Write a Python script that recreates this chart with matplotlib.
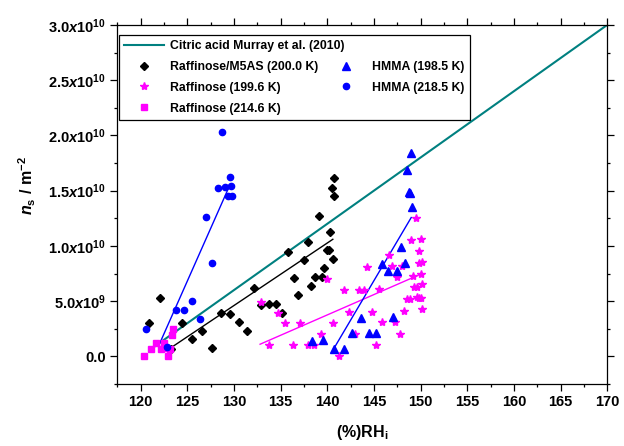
import matplotlib
matplotlib.use("Agg")
import matplotlib.pyplot as plt
from matplotlib.ticker import MultipleLocator, FixedLocator, FixedFormatter
from matplotlib.lines import Line2D

plt.rcParams['font.family'] = ['Liberation Sans', 'DejaVu Sans']
plt.rcParams['font.weight'] = 'bold'
plt.rcParams['mathtext.fontset'] = 'custom'
plt.rcParams['mathtext.rm'] = 'Liberation Sans:bold'
plt.rcParams['mathtext.bf'] = 'Liberation Sans:bold'
plt.rcParams['mathtext.it'] = 'Liberation Sans:bold:italic'
plt.rcParams['mathtext.bfit'] = 'Liberation Sans:bold:italic'

SCALE = 1e10  # values below are in units of 1e10 m^-2

# Raffinose/M5AS (200.0 K)
raf_m5as_rh = [122.1, 120.9, 124.4, 126.6, 125.5, 127.6, 123.3, 128.6, 129.6, 130.5,
               131.4, 132.2, 132.9, 133.75, 134.5, 135.1, 135.8, 136.4, 136.9, 137.5,
               137.9, 138.3, 138.7, 139.4, 139.7, 140.0, 140.2, 140.6, 139.1, 140.3,
               140.5, 140.75, 140.7]
raf_m5as_ns = [0.53, 0.305, 0.305, 0.23, 0.154, 0.079, 0.067, 0.39, 0.386, 0.308,
               0.232, 0.62, 0.465, 0.47, 0.47, 0.392, 0.944, 0.709, 0.552, 0.872,
               1.031, 0.633, 0.715, 0.715, 0.80, 0.962, 0.962, 0.884, 1.275, 1.128,
               1.528, 1.613, 1.456]

# Raffinose (199.6 K)
raf_199_rh = [132.9, 134.7, 135.5, 137.1, 133.8, 136.3, 137.9, 138.6, 139.3, 139.95,
              140.6, 141.25, 141.8, 142.3, 143.0, 143.4, 143.9, 144.3, 144.75, 145.2,
              145.6, 145.9, 146.6, 146.95, 147.25, 147.5, 147.8, 148.0, 148.25, 148.5,
              148.85, 148.95, 149.2, 149.35, 149.5, 149.65, 149.65, 149.8, 149.85, 149.85,
              150.0, 150.05, 150.1, 150.15, 150.15, 150.15]
raf_199_ns = [0.49, 0.39, 0.30, 0.30, 0.10, 0.10, 0.10, 0.10, 0.20, 0.70,
              0.30, 0.00, 0.60, 0.40, 0.20, 0.60, 0.60, 0.81, 0.40, 0.10,
              0.61, 0.31, 0.92, 0.82, 0.31, 0.72, 0.20, 0.82, 0.41, 0.52,
              0.52, 1.05, 0.73, 0.63, 1.25, 0.54, 0.63, 0.845, 0.956, 0.53,
              0.53, 0.745, 1.064, 0.43, 0.655, 0.854]

# Raffinose (214.6 K)
raf_214_rh = [120.4, 121.1, 121.7, 122.2, 122.55, 122.9, 123.2, 123.35, 123.45, 122.6]
raf_214_ns = [0.0, 0.065, 0.125, 0.065, 0.125, 0.0, 0.065, 0.19, 0.25, 0.08]

# HMMA (198.5 K)
hmma_198_rh = [149.0, 148.55, 148.8, 148.9, 149.05, 147.9, 145.9, 146.5, 147.5, 148.3,
               143.6, 147.0, 142.7, 144.45, 145.2, 140.7, 141.75, 138.4, 139.55]
hmma_198_ns = [1.84, 1.69, 1.49, 1.48, 1.35, 0.99, 0.84, 0.775, 0.775, 0.845,
               0.347, 0.353, 0.212, 0.212, 0.212, 0.07, 0.07, 0.142, 0.145]

# HMMA (218.5 K)
hmma_218_rh = [128.7, 129.55, 128.25, 129.05, 129.7, 129.35, 129.75, 127.05, 127.65,
               125.55, 123.75, 124.65, 126.35, 120.6, 122.8]
hmma_218_ns = [2.035, 1.62, 1.52, 1.53, 1.54, 1.45, 1.45, 1.26, 0.845,
               0.504, 0.42, 0.42, 0.338, 0.25, 0.088]

# Linear fits (end points)
citric_rh = [121.0, 170.0]
citric_ns = [0.06, 3.0]
fit_m5as_rh = [123.1, 140.6]
fit_m5as_ns = [0.07, 1.06]
fit_raf199_rh = [132.8, 149.9]
fit_raf199_ns = [0.11, 0.74]
fit_hmma198_rh = [140.7, 149.0]
fit_hmma198_ns = [0.07, 1.257]
fit_hmma218_rh = [121.9, 129.4]
fit_hmma218_ns = [0.09, 1.52]

ytick_vals = [0.0, 0.5, 1.0, 1.5, 2.0, 2.5, 3.0]
ytick_labels = ['0.0', r'$5.0x10^{9}$', r'$1.0x10^{10}$', r'$1.5x10^{10}$',
                r'$2.0x10^{10}$', r'$2.5x10^{10}$', r'$3.0x10^{10}$']

def sc(v):
    return [x * SCALE for x in v]

fig = plt.figure(figsize=(6.24, 4.46), dpi=100)
ax = fig.add_axes([0.188, 0.139, 0.785, 0.805])

teal = '#008080'
mag = '#FF00FF'
blue = '#0000FF'

ax.plot(citric_rh, sc(citric_ns), color=teal, lw=1.5, zorder=2)
ax.plot(fit_m5as_rh, sc(fit_m5as_ns), color='black', lw=1.0, zorder=2)
ax.plot(fit_raf199_rh, sc(fit_raf199_ns), color=mag, lw=1.0, zorder=2)
ax.plot(fit_hmma198_rh, sc(fit_hmma198_ns), color=blue, lw=1.0, zorder=2)
ax.plot(fit_hmma218_rh, sc(fit_hmma218_ns), color=blue, lw=1.0, zorder=2)

ax.plot(raf_m5as_rh, sc(raf_m5as_ns), 'D', color='black', ms=4.0, ls='none', zorder=3)
ax.plot(raf_199_rh, sc(raf_199_ns), '*', color=mag, ms=6, ls='none', zorder=3)
ax.plot(raf_214_rh, sc(raf_214_ns), 's', color=mag, ms=4.3, ls='none', zorder=3)
ax.plot(hmma_198_rh, sc(hmma_198_ns), '^', color=blue, ms=5.5, ls='none', zorder=3)
ax.plot(hmma_218_rh, sc(hmma_218_ns), 'o', color=blue, ms=4.5, ls='none', zorder=3)

ax.set_xlim(117.5, 170)
ax.set_ylim(-0.25 * SCALE, 3.0 * SCALE)
ax.xaxis.set_major_locator(MultipleLocator(5))
ax.xaxis.set_minor_locator(MultipleLocator(2.5))
ax.yaxis.set_major_locator(FixedLocator(sc(ytick_vals)))
ax.yaxis.set_major_formatter(FixedFormatter(ytick_labels))
ax.yaxis.set_minor_locator(MultipleLocator(0.25 * SCALE))

ax.tick_params(which='both', direction='out', top=True, right=True, width=0.9)
ax.tick_params(which='major', length=5, labelsize=10.5, pad=3)
ax.tick_params(which='minor', length=2.5)
for lab in ax.get_xticklabels():
    lab.set_fontweight('bold')
for sp in ax.spines.values():
    sp.set_linewidth(0.9)

ax.set_xlabel(r'(%)RH$_{\mathbf{i}}$', fontsize=11.5, fontweight='bold')
ax.xaxis.set_label_coords(0.501, -0.108)
ax.set_ylabel(r'$\mathbfit{n}_{\mathbf{s}}\mathbf{\ /\ m^{-2}}$', fontsize=11.5)
ax.yaxis.set_label_coords(-0.162, 0.554)

blank = Line2D([], [], ls='none', marker='none')
handles = [
    Line2D([], [], color=teal, lw=1.5),
    Line2D([], [], marker='D', color='black', ls='none', ms=4.0),
    Line2D([], [], marker='*', color=mag, ls='none', ms=6),
    Line2D([], [], marker='s', color=mag, ls='none', ms=4.3),
    blank,
    Line2D([], [], marker='^', color=blue, ls='none', ms=5.5),
    Line2D([], [], marker='o', color=blue, ls='none', ms=4.5),
    blank,
]
labels = ['Citric acid Murray et al. (2010)', 'Raffinose/M5AS (200.0 K)',
          'Raffinose (199.6 K)', 'Raffinose (214.6 K)', '',
          'HMMA (198.5 K)', 'HMMA (218.5 K)', '']
leg = ax.legend(handles, labels, ncol=2, loc='upper left',
                bbox_to_anchor=(0.0035, 0.972), borderaxespad=0,
                prop={'family': 'Liberation Sans', 'weight': 'bold', 'size': 8.8},
                frameon=True, fancybox=False, edgecolor='black', framealpha=1,
                handlelength=3.3, handletextpad=0.45, columnspacing=-1.5,
                labelspacing=0.72, borderpad=0.42)
leg.get_frame().set_linewidth(0.9)

fig.savefig('out.png', dpi=100)
